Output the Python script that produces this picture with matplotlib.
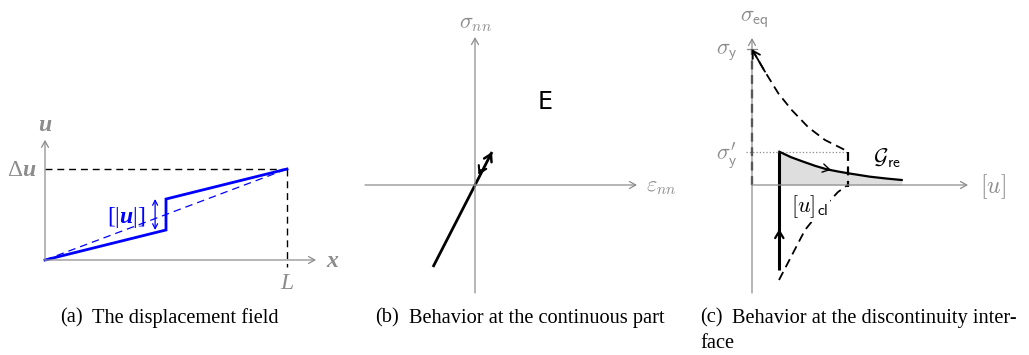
import matplotlib
matplotlib.use("Agg")
import matplotlib.pyplot as plt

plt.rcParams['mathtext.fontset'] = 'cm'
plt.rcParams['mathtext.rm'] = 'Liberation Serif'
plt.rcParams['mathtext.it'] = 'Liberation Serif:italic'
plt.rcParams['mathtext.bf'] = 'Liberation Serif:bold:italic'

W, H = 1029, 355
GRAY = '#8c8c8c'
BLUE = '#0000ff'

# (a) displacement field, x in units of L, u in units of Delta u
a_x = [0.0, 0.5, 0.5, 1.0]
a_u = [0.0, 0.33, 0.67, 1.0]
a_jump_x = 0.455

# (b) elastic line in the continuous part
b_eps = [-0.42, 0.17]
b_sig = [-0.82, 0.33]

# (c) discontinuity interface
sig_y = 1.357
sig_y2 = 0.333
u_open = 0.957
c_load_u = [0.0, 0.13, 0.263, 0.397, 0.563, 0.73, 0.93, 0.957]
c_load_s = [1.357, 1.133, 0.917, 0.75, 0.577, 0.45, 0.35, 0.333]
c_re_u = [0.273, 0.39, 0.513, 0.63, 0.747, 0.86, 0.963, 1.18, 1.35, 1.497]
c_re_s = [0.333, 0.278, 0.233, 0.192, 0.157, 0.135, 0.117, 0.083, 0.064, 0.05]
c_cl_u = [0.273, 0.273]
c_cl_s = [-0.85, 0.333]
c_back_u = [0.27, 0.40, 0.53, 0.70, 0.86, 0.957]
c_back_s = [-0.95, -0.70, -0.45, -0.24, -0.07, 0.0]

captions = ['(a)', '(b)', '(c)']
caption_texts = ['The displacement field', 'Behavior at the continuous part',
                 'Behavior at the discontinuity inter-']

fig = plt.figure(figsize=(W / 100, H / 100), dpi=100)


def panel(px0, px1, py0, py1, ox, oy, sx, sy):
    # axes placed in pixel box, data origin at pixel (ox, oy)
    ax = fig.add_axes([px0 / W, 1 - py1 / H, (px1 - px0) / W, (py1 - py0) / H])
    ax.set_xlim((px0 - ox) / sx, (px1 - ox) / sx)
    ax.set_ylim((oy - py1) / sy, (oy - py0) / sy)
    ax.axis('off')
    return ax


def axis_arrow(ax, p0, p1):
    ax.annotate('', xy=p1, xytext=p0,
                arrowprops=dict(arrowstyle='->,head_length=0.45,head_width=0.25',
                                color=GRAY, lw=0.9, shrinkA=0, shrinkB=0))


def head(ax, p0, p1, color='black', lw=1.6):
    ax.annotate('', xy=p1, xytext=p0,
                arrowprops=dict(arrowstyle='->,head_length=0.5,head_width=0.3',
                                color=color, lw=lw, shrinkA=0, shrinkB=0))


# ---------- (a)
ax = panel(0, 345, 95, 292, 45, 260, 242, 91)
axis_arrow(ax, (0, 0), (1.12, 0))
axis_arrow(ax, (0, 0), (0, 1.32))
ax.plot([0, 1], [1, 1], color='black', lw=1.0, dashes=(5, 3.5))
ax.plot([1, 1], [1, -0.08], color='black', lw=1.0, dashes=(5, 3.5))
ax.plot([a_x[0], a_x[-1]], [a_u[0], a_u[-1]], color=BLUE, lw=0.9, dashes=(6, 4))
ax.plot(a_x, a_u, color=BLUE, lw=2.0, solid_joinstyle='miter')
ax.annotate('', xy=(a_jump_x, a_u[2]), xytext=(a_jump_x, a_u[1]),
            arrowprops=dict(arrowstyle='<->,head_length=0.35,head_width=0.18',
                            color=BLUE, lw=0.9, shrinkA=0, shrinkB=0))
ax.text(0, 1.49, '$\\mathbf{u}$', color=GRAY, fontsize=17, ha='center', va='center',
        math_fontfamily='custom')
ax.text(-0.035, 1.0, '$\\Delta\\mathbf{u}$', color=GRAY, fontsize=17, ha='right',
        va='center', math_fontfamily='custom')
ax.text(1.16, 0.0, '$\\mathbf{x}$', color=GRAY, fontsize=17, ha='left', va='center',
        math_fontfamily='custom')
ax.text(1.0, -0.24, '$L$', color=GRAY, fontsize=17, ha='center', va='center',
        math_fontfamily='custom')
ax.text(0.415, 0.47, '$[|\\mathbf{u}|]$', color=BLUE, fontsize=17, ha='right',
        va='center', math_fontfamily='custom')

# ---------- (b)
ax = panel(350, 690, 0, 293, 475, 185, 100, 100)
axis_arrow(ax, (-1.1, 0), (1.62, 0))
axis_arrow(ax, (0, -1.08), (0, 1.48))
ax.plot(b_eps, b_sig, color='black', lw=2.0, solid_capstyle='butt')
head(ax, (b_eps[1] - 0.02, b_sig[1] - 0.04), (b_eps[1], b_sig[1]), lw=1.8)
head(ax, (0.06, 0.15), (0.035, 0.10), lw=1.5)
ax.text(0.0, 1.61, '$\\sigma_{nn}$', color=GRAY, fontsize=16, ha='center', va='center')
ax.text(1.71, -0.02, '$\\varepsilon_{nn}$', color=GRAY, fontsize=16, ha='left',
        va='center')
ax.text(0.70, 0.83, 'E', fontsize=17, ha='center', va='center', family='DejaVu Sans')

# ---------- (c)
ax = panel(690, 1029, 0, 293, 752, 185, 100, 100)
ax.fill_between(c_re_u, c_re_s, 0, color='#dedede', lw=0)
axis_arrow(ax, (0, 0), (2.16, 0))
axis_arrow(ax, (0, -1.08), (0, 1.47))
ax.plot([-0.05, 0.05], [sig_y, sig_y], color=GRAY, lw=0.9)
ax.plot([-0.06, u_open], [sig_y2, sig_y2], color=GRAY, lw=0.9, ls=':')
ax.plot([0, 0], [0, sig_y], color='black', lw=1.6, dashes=(4, 2.5))
ax.plot(c_load_u, c_load_s, color='black', lw=1.3, dashes=(5, 3))
head(ax, (c_load_u[1], c_load_s[1]), (c_load_u[0], c_load_s[0]), lw=1.3)
ax.plot([u_open, u_open], [sig_y2, -0.02], color='black', lw=1.6, dashes=(4, 2.5))
ax.plot(c_back_u, c_back_s, color='black', lw=1.3, dashes=(5, 3))
ax.plot(c_re_u, c_re_s, color='black', lw=1.6)
ax.plot(c_cl_u, c_cl_s, color='black', lw=2.2, solid_capstyle='butt')
head(ax, (0.75, 0.16), (0.79, 0.151), lw=1.0)
head(ax, (c_cl_u[0], -0.50), (c_cl_u[0], -0.44), lw=1.6)
ax.text(0.02, 1.66, '$\\sigma_{\\mathsf{eq}}$', color=GRAY, fontsize=16,
        ha='center', va='center')
ax.text(-0.14, 1.33, '$\\sigma_{\\mathsf{y}}$', color=GRAY, fontsize=16,
        ha='right', va='center')
ax.text(-0.14, 0.29, "$\\sigma_{\\mathsf{y}}'$", color=GRAY, fontsize=16,
        ha='right', va='center')
ax.text(2.28, -0.02, '$[u]$', color=GRAY, fontsize=17, ha='left', va='center')
ax.text(0.58, -0.22, '$[u]_{\\mathsf{cl}}$', color='black', fontsize=16,
        ha='center', va='center',
        bbox=dict(facecolor='white', edgecolor='none', pad=1))
ax.text(1.35, 0.27, '$\\mathcal{G}_{\\mathsf{re}}$', color='black', fontsize=16,
        ha='center', va='center')

# ---------- captions
cap_x = [60, 375, 700]
txt_x = [92, 409, 732]
for lab, txt, x0, x1 in zip(captions, caption_texts, cap_x, txt_x):
    fig.text(x0 / W, 1 - 318 / H, lab, family='Liberation Serif', fontsize=14.7,
             ha='left', va='center')
    fig.text(x1 / W, 1 - 318 / H, txt, family='Liberation Serif', fontsize=14.7,
             ha='left', va='center')
fig.text(700 / W, 1 - 343 / H, 'face', family='Liberation Serif', fontsize=14.7,
         ha='left', va='center')

fig.savefig('out.png', dpi=100)
